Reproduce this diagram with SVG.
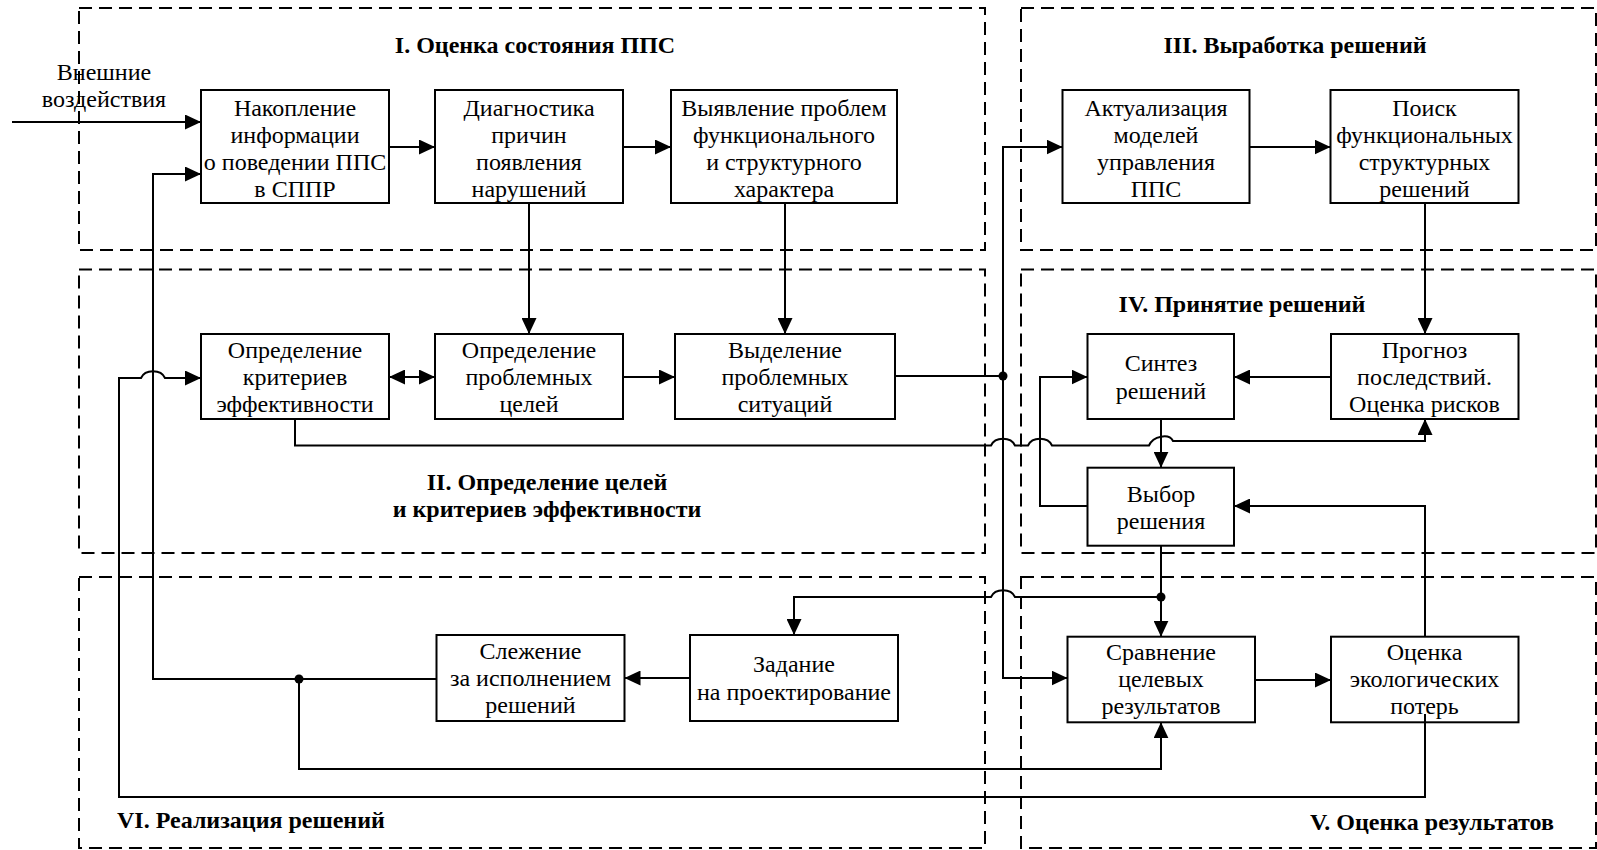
<svg xmlns="http://www.w3.org/2000/svg" width="1597" height="850" viewBox="0 0 1597 850">
<defs>
<marker id="arr" markerUnits="userSpaceOnUse" markerWidth="16" markerHeight="15" refX="16" refY="7.5" orient="auto-start-reverse"><path d="M0,0 L16,7.5 L0,15 z" fill="#000"/></marker>
<style>
.region{fill:none;stroke:#000;stroke-width:2;stroke-dasharray:13 7}
.box{fill:#fff;stroke:#000;stroke-width:2}
.t{font-family:"Liberation Serif","Times New Roman",serif;font-size:24px;text-anchor:middle;fill:#000}
.h{font-family:"Liberation Serif","Times New Roman",serif;font-size:24px;font-weight:bold;fill:#000}
.c{fill:none;stroke:#000;stroke-width:2}
.a{marker-end:url(#arr)}
.aa{marker-start:url(#arr);marker-end:url(#arr)}
.dot{fill:#000}
</style>
</defs>
<rect width="1597" height="850" fill="#fff"/>
<g id="regions">
<rect class="region" x="79" y="8" width="906" height="242"/>
<rect class="region" x="1021" y="8" width="575" height="242"/>
<rect class="region" x="79" y="269.5" width="906" height="283.5"/>
<rect class="region" x="1021" y="269.5" width="575" height="283.5"/>
<rect class="region" x="79" y="577" width="906" height="271"/>
<rect class="region" x="1021" y="577" width="575" height="271"/>
<text class="h" x="535" y="53" text-anchor="middle">I. Оценка состояния ППС</text>
<text class="h" x="1295" y="53" text-anchor="middle">III. Выработка решений</text>
<text class="h" x="547" y="490" text-anchor="middle">II. Определение целей</text>
<text class="h" x="547" y="517" text-anchor="middle">и критериев эффективности</text>
<text class="h" x="1242" y="312" text-anchor="middle">IV. Принятие решений</text>
<text class="h" x="1432" y="830" text-anchor="middle">V. Оценка результатов</text>
<text class="h" x="117" y="828">VI. Реализация решений</text>
</g>
<g id="n1"><rect class="box" x="201" y="90" width="188" height="113"/>
<text class="t" x="295" y="116">Накопление</text><text class="t" x="295" y="143">информации</text><text class="t" x="295" y="170">о поведении ППС</text><text class="t" x="295" y="197">в СППР</text></g>
<g id="n2"><rect class="box" x="435" y="90" width="188" height="113"/>
<text class="t" x="529" y="116">Диагностика</text><text class="t" x="529" y="143">причин</text><text class="t" x="529" y="170">появления</text><text class="t" x="529" y="197">нарушений</text></g>
<g id="n3"><rect class="box" x="671" y="90" width="226" height="113"/>
<text class="t" x="784" y="116">Выявление проблем</text><text class="t" x="784" y="143">функционального</text><text class="t" x="784" y="170">и структурного</text><text class="t" x="784" y="197">характера</text></g>
<g id="n4"><rect class="box" x="1062.5" y="90" width="187" height="113"/>
<text class="t" x="1156" y="116">Актуализация</text><text class="t" x="1156" y="143">моделей</text><text class="t" x="1156" y="170">управления</text><text class="t" x="1156" y="197">ППС</text></g>
<g id="n5"><rect class="box" x="1330.5" y="90" width="188" height="113"/>
<text class="t" x="1424.5" y="116">Поиск</text><text class="t" x="1424.5" y="143">функциональных</text><text class="t" x="1424.5" y="170">структурных</text><text class="t" x="1424.5" y="197">решений</text></g>
<g id="n6"><rect class="box" x="201" y="334" width="188" height="85"/>
<text class="t" x="295" y="358">Определение</text><text class="t" x="295" y="385">критериев</text><text class="t" x="295" y="412">эффективности</text></g>
<g id="n7"><rect class="box" x="435" y="334" width="188" height="85"/>
<text class="t" x="529" y="358">Определение</text><text class="t" x="529" y="385">проблемных</text><text class="t" x="529" y="412">целей</text></g>
<g id="n8"><rect class="box" x="675" y="334" width="220" height="85"/>
<text class="t" x="785" y="358">Выделение</text><text class="t" x="785" y="385">проблемных</text><text class="t" x="785" y="412">ситуаций</text></g>
<g id="n9"><rect class="box" x="1087.5" y="334" width="146.5" height="85"/>
<text class="t" x="1161" y="371">Синтез</text><text class="t" x="1161" y="399">решений</text></g>
<g id="n10"><rect class="box" x="1331" y="334" width="187.5" height="85"/>
<text class="t" x="1424.5" y="358">Прогноз</text><text class="t" x="1424.5" y="385">последствий.</text><text class="t" x="1424.5" y="412">Оценка рисков</text></g>
<g id="n11"><rect class="box" x="1087.5" y="467.7" width="146.5" height="78"/>
<text class="t" x="1161" y="502">Выбор</text><text class="t" x="1161" y="529">решения</text></g>
<g id="n12"><rect class="box" x="436.5" y="635" width="188" height="86"/>
<text class="t" x="530.5" y="659">Слежение</text><text class="t" x="530.5" y="686">за исполнением</text><text class="t" x="530.5" y="713">решений</text></g>
<g id="n13"><rect class="box" x="690" y="635" width="208" height="86"/>
<text class="t" x="794" y="672">Задание</text><text class="t" x="794" y="700">на проектирование</text></g>
<g id="n14"><rect class="box" x="1067.5" y="636.7" width="187.5" height="85.6"/>
<text class="t" x="1161" y="660">Сравнение</text><text class="t" x="1161" y="687">целевых</text><text class="t" x="1161" y="714">результатов</text></g>
<g id="n15"><rect class="box" x="1331" y="636.7" width="187.5" height="85.6"/>
<text class="t" x="1424.5" y="660">Оценка</text><text class="t" x="1424.5" y="687">экологических</text><text class="t" x="1424.5" y="714">потерь</text></g>
<g id="ext"><text class="t" x="104" y="80">Внешние</text><text class="t" x="104" y="107">воздействия</text></g>
<g id="connectors">
<path class="c a" d="M12,122 L201,122"/>
<path class="c a" d="M436.5,679 L153,679 L153,174 L201,174"/>
<path class="c a" d="M299,679 L299,769 L1161,769 L1161,722.3"/>
<path class="c a" d="M1425,714 L1425,797 L119,797 L119,378 L141,378 C145,369 161,369 165,378 L201,378"/>
<path class="c a" d="M389,147 L435,147"/>
<path class="c a" d="M623,147 L671,147"/>
<path class="c a" d="M1249.5,147 L1330.5,147"/>
<path class="c a" d="M529,203 L529,334"/>
<path class="c a" d="M785,203 L785,334"/>
<path class="c aa" d="M389,377 L435,377"/>
<path class="c a" d="M623,377 L675,377"/>
<path class="c" d="M895,376 L1003,376"/>
<path class="c a" d="M1003,376 L1003,147 L1062.5,147"/>
<path class="c a" d="M1003,376 L1003,678 L1067.5,678"/>
<path class="c a" d="M295,419 L295,445.5 L991,445.5 C995,436.5 1011,436.5 1015,445.5 L1028,445.5 C1032,436.5 1048,436.5 1052,445.5 L1149,445.5 C1153,436 1169,433 1173,441 L1425,441 L1425,419"/>
<path class="c a" d="M1425,203 L1425,334"/>
<path class="c a" d="M1331,377 L1234,377"/>
<path class="c a" d="M1087.5,506 L1040,506 L1040,377 L1087.5,377"/>
<path class="c a" d="M1425,636.7 L1425,506 L1234,506"/>
<path class="c a" d="M1161,419 L1161,467.7"/>
<path class="c a" d="M1161,545.7 L1161,636.7"/>
<path class="c a" d="M1161,597 L1015,597 C1011,588 995,588 991,597 L794,597 L794,635"/>
<path class="c a" d="M690,678 L624.5,678"/>
<path class="c a" d="M1255,680 L1331,680"/>
<circle class="dot" cx="299" cy="679" r="4.5"/>
<circle class="dot" cx="1003" cy="376" r="4.5"/>
<circle class="dot" cx="1161" cy="597" r="4.5"/>
</g>
</svg>
